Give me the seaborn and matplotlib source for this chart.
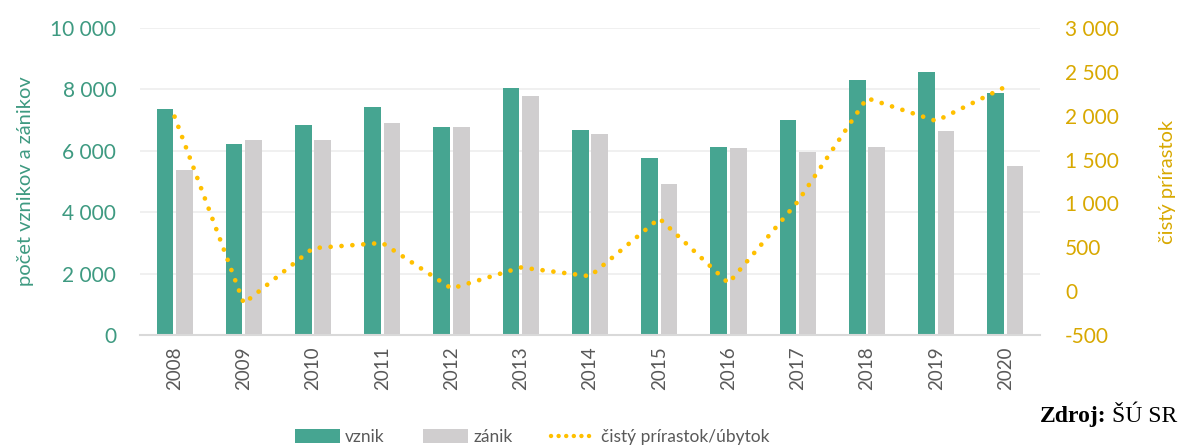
import numpy as np
import pandas as pd
import seaborn as sns
import matplotlib.pyplot as plt
from matplotlib.patches import Patch
from matplotlib.lines import Line2D
from matplotlib.ticker import FuncFormatter, MultipleLocator

# data
years = ["2008", "2009", "2010", "2011", "2012", "2013", "2014",
         "2015", "2016", "2017", "2018", "2019", "2020"]
vznik = [7370, 6220, 6850, 7440, 6780, 8050, 6690, 5760, 6130, 7000, 8310, 8570, 7880]
zanik = [5380, 6350, 6360, 6910, 6760, 7780, 6550, 4920, 6090, 5960, 6120, 6640, 5500]
prirastok = [1990, -140, 490, 550, 30, 270, 170, 830, 90, 1020, 2200, 1940, 2330]

GREEN = "#46A591"
GREY = "#D0CECF"
GOLD = "#FFC000"
LEFT_TXT = "#3E9A81"
RIGHT_TXT = "#D8A800"
TXT = "#595959"
DOTS = (0, (0.01, 2.3))


def space_thousands(v, pos=None):
    return f"{v:,.0f}".replace(",", " ")


def to_long(years, vznik, zanik):
    df = pd.DataFrame({"rok": years, "vznik": vznik, "zánik": zanik})
    return df.melt(id_vars="rok", var_name="typ", value_name="pocet")


def main():
    sns.set_theme(style="white")
    plt.rcParams["font.family"] = ["Lato", "DejaVu Sans"]

    fig = plt.figure(figsize=(11.8, 4.46), dpi=100)
    ax = fig.add_axes([0.1186, 0.2489, 0.7628, 0.6883])

    df = to_long(years, vznik, zanik)
    sns.barplot(data=df, x="rok", y="pocet", hue="typ",
                palette={"vznik": GREEN, "zánik": GREY}, saturation=1,
                width=0.56, gap=0.14, linewidth=0, legend=False, ax=ax)

    ax.set_ylim(0, 10000)
    ax.yaxis.set_major_locator(MultipleLocator(2000))
    ax.yaxis.set_major_formatter(FuncFormatter(space_thousands))
    ax.grid(axis="y", color="#EFEFEF", linewidth=1.3)
    ax.set_axisbelow(True)
    for s in ["top", "right", "left"]:
        ax.spines[s].set_visible(False)
    ax.spines["bottom"].set_color("#D9D9D9")
    ax.spines["bottom"].set_linewidth(1.5)
    ax.tick_params(axis="y", length=0, pad=17, labelsize=15, labelcolor=LEFT_TXT)
    ax.tick_params(axis="x", length=0, pad=8, labelsize=13.5, labelcolor=TXT)
    plt.setp(ax.get_xticklabels(), rotation=90)
    ax.set_xlabel("")
    ax.set_ylabel("počet vznikov a zánikov", fontsize=14.5, color=LEFT_TXT, labelpad=12)

    ax2 = ax.twinx()
    sns.lineplot(x=np.arange(len(years)), y=prirastok, color=GOLD, linewidth=3.4,
                 ax=ax2)
    line = ax2.lines[0]
    line.set_linestyle(DOTS)
    line.set_dash_capstyle("round")
    ax2.set_ylim(-500, 3000)
    ax2.yaxis.set_major_locator(MultipleLocator(500))
    ax2.yaxis.set_major_formatter(FuncFormatter(space_thousands))
    for s in ["top", "right", "left", "bottom"]:
        ax2.spines[s].set_visible(False)
    ax2.tick_params(axis="y", length=0, pad=18, labelsize=15, labelcolor=RIGHT_TXT)
    ax2.set_ylabel("čistý prírastok", fontsize=14.5, color=RIGHT_TXT, labelpad=29)
    ax2.set_xlim(-0.5, len(years) - 0.5)

    handles = [
        Patch(facecolor=GREEN, edgecolor="none", label="vznik"),
        Patch(facecolor=GREY, edgecolor="none", label="zánik"),
        Line2D([0], [0], color=GOLD, linewidth=3.2, linestyle=(0, (0.01, 1.7)),
               dash_capstyle="round", label="čistý prírastok/úbytok"),
    ]
    fig.legend(handles=handles, loc="center", bbox_to_anchor=(0.451, 0.02),
               ncol=3, frameon=False, fontsize=12.5, handlelength=2.6,
               handleheight=0.8, columnspacing=2.2, handletextpad=0.3,
               labelcolor=TXT)

    src = fig.text(0.998, 0.067, "ŠÚ SR", fontsize=17, family="Liberation Serif",
                   ha="right", va="center", color="black")
    ax.annotate("Zdroj:", xy=(0, 0.5), xycoords=src, xytext=(-4, 0),
                textcoords="offset points", fontsize=17, fontweight="bold",
                family="Liberation Serif", ha="right", va="center", color="black",
                annotation_clip=False)
    fig.savefig("out.png", dpi=100)


if __name__ == "__main__":
    main()
